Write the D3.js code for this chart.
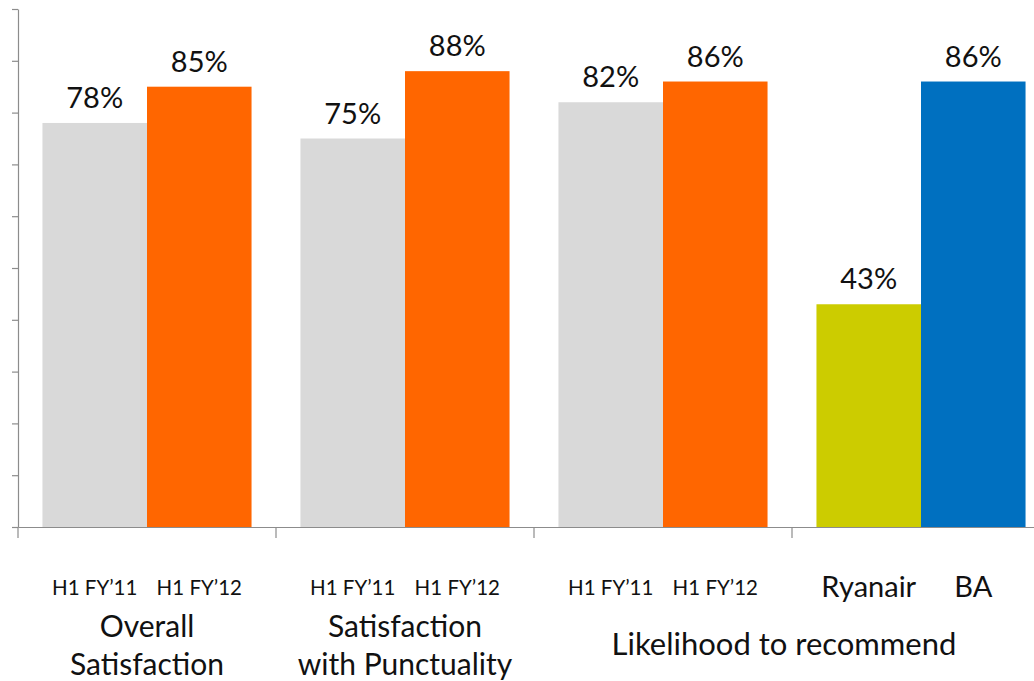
<!DOCTYPE html>
<html>
<head>
<meta charset="utf-8">
<script src="https://cdn.jsdelivr.net/npm/d3@7"></script>
<style>
  body { margin: 0; background: #fff; }
  svg { display: block; font-family: Lato, "Open Sans", sans-serif; }
</style>
</head>
<body>
<div id="chart"></div>
<script>
// chart data
const sections = ['overall', 'punctuality', 'recommend', 'peers'];
const barLabels = [
  ['H1 FY\u201911', 'H1 FY\u201912'],
  ['H1 FY\u201911', 'H1 FY\u201912'],
  ['H1 FY\u201911', 'H1 FY\u201912'],
  ['Ryanair', 'BA']
];
const values = [
  [78, 85],
  [75, 88],
  [82, 86],
  [43, 86]
];
const barColors = [
  ['#d9d9d9', '#ff6600'],
  ['#d9d9d9', '#ff6600'],
  ['#d9d9d9', '#ff6600'],
  ['#cccc00', '#0070c0']
];
const groupTitles = [
  { label: ['Overall', 'Satisfaction'], from: 0, to: 0 },
  { label: ['Satisfaction', 'with Punctuality'], from: 1, to: 1 },
  { label: ['Likelihood to recommend'], from: 2, to: 3 }
];
const yTicks = [0, 10, 20, 30, 40, 50, 60, 70, 80, 90, 100];

const width = 1034, height = 681;
const svg = d3.select('#chart').append('svg')
  .attr('width', width)
  .attr('height', height);

const x0 = d3.scaleBand()
  .domain(sections)
  .range([18, 1050])
  .paddingInner(0)
  .paddingOuter(0);

const x1 = d3.scaleBand()
  .domain([0, 1])
  .range([0, x0.bandwidth()])
  .paddingInner(0)
  .paddingOuter(0.234);

const y = d3.scaleLinear()
  .domain([0, 100])
  .range([527, 9]);

// bars
const groups = svg.selectAll('.group')
  .data(sections)
  .enter()
  .append('g')
  .attr('class', 'group')
  .attr('transform', d => `translate(${x0(d)},0)`);

groups.each(function(s, gi) {
  const g = d3.select(this);
  const rows = values[gi].map((v, i) => ({ v, i }));

  g.selectAll('rect')
    .data(rows)
    .enter()
    .append('rect')
    .attr('x', d => x1(d.i))
    .attr('y', d => y(d.v))
    .attr('width', x1.bandwidth())
    .attr('height', d => y(0) - y(d.v))
    .attr('fill', d => barColors[gi][d.i]);

  g.selectAll('.val')
    .data(rows)
    .enter()
    .append('text')
    .attr('class', 'val')
    .attr('x', d => x1(d.i) + x1.bandwidth() / 2)
    .attr('y', d => y(d.v) - 15)
    .attr('text-anchor', 'middle')
    .attr('font-size', 29)
    .attr('fill', '#111')
    .text(d => d.v + '%');

  g.selectAll('.cat')
    .data(rows)
    .enter()
    .append('text')
    .attr('class', 'cat')
    .attr('x', d => x1(d.i) + x1.bandwidth() / 2)
    .attr('y', gi === 3 ? 597 : 595)
    .attr('text-anchor', 'middle')
    .attr('font-size', gi === 3 ? 29 : 20.5)
    .attr('fill', '#111')
    .text(d => barLabels[gi][d.i]);
});

// y axis
const yAxis = d3.axisLeft(y)
  .tickValues(yTicks)
  .tickFormat('')
  .tickSize(6)
  .tickSizeOuter(0);

svg.append('g')
  .attr('transform', 'translate(18,0)')
  .call(yAxis)
  .call(g => g.selectAll('path, line').attr('stroke', '#8c8c8c').attr('stroke-width', 1.2));

// x axis with separators between sections
const xAxis = d3.axisBottom(x0)
  .tickValues([])
  .tickSizeOuter(0);

svg.append('g')
  .attr('transform', `translate(0,${y(0)})`)
  .call(xAxis)
  .call(g => g.select('.domain').attr('stroke', '#8c8c8c').attr('stroke-width', 1.2));

svg.append('g')
  .selectAll('line')
  .data(sections)
  .enter()
  .append('line')
  .attr('x1', d => x0(d))
  .attr('x2', d => x0(d))
  .attr('y1', y(0))
  .attr('y2', y(0) + 11)
  .attr('stroke', '#8c8c8c')
  .attr('stroke-width', 1.2);

// group titles
groupTitles.forEach(t => {
  const left = x0(sections[t.from]);
  const right = Math.min(x0(sections[t.to]) + x0.bandwidth(), width);
  const cx = (left + right) / 2;
  const lines = t.label;
  const startY = lines.length === 1 ? 655 : 637;
  const txt = svg.append('text')
    .attr('text-anchor', 'middle')
    .attr('font-size', lines.length === 1 ? 31 : 30)
    .attr('fill', '#111');
  lines.forEach((line, i) => {
    txt.append('tspan')
      .attr('x', cx)
      .attr('y', startY + i * 38)
      .text(line);
  });
});
</script>
</body>
</html>
